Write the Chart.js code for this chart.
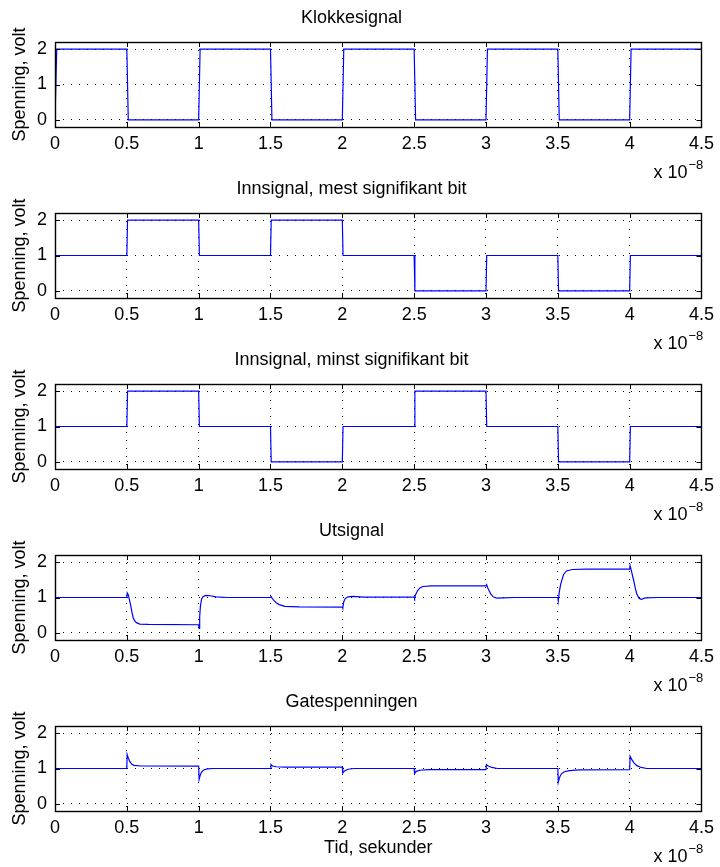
<!DOCTYPE html>
<html>
<head>
<meta charset="utf-8">
<script src="https://cdn.jsdelivr.net/npm/chart.js@4/dist/chart.umd.min.js"></script>
<style>
  html, body { margin: 0; padding: 0; background: #fff; }
  #wrap { position: relative; width: 720px; height: 867px; overflow: hidden; }
  .panel { position: absolute; left: 0; width: 720px; height: 183px; }
</style>
</head>
<body>
<div id="wrap"></div>
<script>
// tid i enheter av 1e-8 s
const xTicks = [0, 0.5, 1, 1.5, 2, 2.5, 3, 3.5, 4, 4.5];
const yTicks = [0, 1, 2];
const titles = ['Klokkesignal', 'Innsignal, mest signifikant bit', 'Innsignal, minst signifikant bit', 'Utsignal', 'Gatespenningen'];

const klokkeTid  = [0, 0.012, 0.5, 0.51, 1.0, 1.01, 1.5, 1.51, 2.0, 2.01, 2.5, 2.51, 3.0, 3.01, 3.5, 3.51, 4.0, 4.01, 4.5];
const klokkeVolt = [0, 2, 2, 0, 0, 2, 2, 0, 0, 2, 2, 0, 0, 2, 2, 0, 0, 2, 2];

const msbTid  = [0, 0.5, 0.505, 1.0, 1.005, 1.5, 1.505, 2.0, 2.005, 2.5, 2.505, 3.0, 3.005, 3.5, 3.505, 4.0, 4.005, 4.5];
const msbVolt = [1, 1, 2, 2, 1, 1, 2, 2, 1, 1, 0, 0, 1, 1, 0, 0, 1, 1];

const lsbTid  = [0, 0.5, 0.505, 1.0, 1.005, 1.5, 1.505, 2.0, 2.005, 2.5, 2.505, 3.0, 3.005, 3.5, 3.505, 4.0, 4.005, 4.5];
const lsbVolt = [1, 1, 2, 2, 1, 1, 0, 0, 1, 1, 2, 2, 1, 1, 0, 0, 1, 1];

const utTid = [0, 0.5, 0.503, 0.51, 0.525, 0.535, 0.544, 0.555, 0.567, 0.59, 0.65, 1.0,
  1.003, 1.007, 1.012, 1.02, 1.03, 1.05, 1.08, 1.12, 1.2, 1.5,
  1.503, 1.52, 1.54, 1.56, 1.6, 1.7, 2.0,
  2.003, 2.01, 2.02, 2.04, 2.07, 2.15, 2.5,
  2.503, 2.51, 2.523, 2.54, 2.56, 2.62, 3.0,
  3.004, 3.015, 3.033, 3.05, 3.075, 3.12, 3.2, 3.5,
  3.503, 3.51, 3.52, 3.54, 3.56, 3.6, 3.7, 4.0,
  4.003, 4.015, 4.028, 4.04, 4.05, 4.065, 4.08, 4.11, 4.2, 4.5];
const utVolt = [1.0, 1.0, 1.13, 1.08, 0.81, 0.6, 0.43, 0.34, 0.29, 0.25, 0.24, 0.23,
  0.13, 0.45, 0.75, 0.95, 1.02, 1.06, 1.05, 1.02, 1.0, 1.0,
  1.03, 0.93, 0.85, 0.8, 0.75, 0.735, 0.73,
  0.7, 0.88, 0.97, 1.02, 1.03, 1.01, 1.01,
  0.98, 1.08, 1.19, 1.27, 1.31, 1.33, 1.33,
  1.36, 1.25, 1.1, 1.02, 0.98, 0.99, 1.0, 1.0,
  0.9, 1.15, 1.38, 1.65, 1.75, 1.79, 1.8, 1.8,
  1.9, 1.7, 1.48, 1.25, 1.1, 0.98, 0.95, 0.99, 1.0, 1.0];

const gateTid = [0, 0.5, 0.502, 0.51, 0.52, 0.535, 0.55, 0.6, 1.0,
  1.003, 1.01, 1.02, 1.035, 1.06, 1.1, 1.5,
  1.503, 1.515, 1.54, 1.6, 2.0,
  2.003, 2.015, 2.04, 2.08, 2.5,
  2.503, 2.515, 2.54, 2.6, 3.0,
  3.003, 3.015, 3.04, 3.08, 3.5,
  3.503, 3.512, 3.525, 3.545, 3.58, 3.65, 4.0,
  4.003, 4.015, 4.03, 4.05, 4.08, 4.12, 4.5];
const gateVolt = [1.0, 1.0, 1.4, 1.3, 1.2, 1.12, 1.09, 1.07, 1.065,
  0.69, 0.8, 0.9, 0.96, 0.99, 1.0, 1.0,
  1.11, 1.07, 1.05, 1.04, 1.04,
  0.87, 0.93, 0.98, 1.0, 1.0,
  0.86, 0.92, 0.95, 0.97, 0.97,
  1.11, 1.07, 1.03, 1.0, 1.0,
  0.61, 0.75, 0.85, 0.91, 0.94, 0.96, 0.97,
  1.35, 1.25, 1.16, 1.08, 1.03, 1.0, 1.0];

const series = [
  [klokkeTid, klokkeVolt],
  [msbTid, msbVolt],
  [lsbTid, lsbVolt],
  [utTid, utVolt],
  [gateTid, gateVolt]
];

const FONT = 'Liberation Sans, Arial, Helvetica, sans-serif';

// boks, innovervendte tick-merker og "x 10^-8"
const matlabAxes = {
  id: 'matlabAxes',
  afterDraw(chart) {
    const ctx = chart.ctx;
    const a = chart.chartArea;
    const xs = chart.scales.x, ys = chart.scales.y;
    ctx.save();
    ctx.strokeStyle = '#000';
    ctx.lineWidth = 1;
    ctx.beginPath();
    xTicks.forEach(v => {
      const px = Math.round(xs.getPixelForValue(v)) + 0.5;
      ctx.moveTo(px, a.bottom); ctx.lineTo(px, a.bottom - 5);
      ctx.moveTo(px, a.top); ctx.lineTo(px, a.top + 5);
    });
    yTicks.forEach(v => {
      const py = Math.round(ys.getPixelForValue(v)) + 0.5;
      ctx.moveTo(a.left, py); ctx.lineTo(a.left + 5, py);
      ctx.moveTo(a.right, py); ctx.lineTo(a.right - 5, py);
    });
    ctx.stroke();
    ctx.lineWidth = 1.4;
    ctx.strokeRect(Math.round(a.left) + 0.5, Math.round(a.top) + 0.5,
      Math.round(a.right - a.left), Math.round(a.bottom - a.top));

    ctx.fillStyle = '#000';
    ctx.textBaseline = 'middle';
    ctx.textAlign = 'left';
    const lx = a.right - 48, ly = a.bottom + 46;
    ctx.font = '18px ' + FONT;
    ctx.fillText('x 10', lx, ly);
    const w = ctx.measureText('x 10').width;
    ctx.font = '13px ' + FONT;
    ctx.fillText('\u22128', lx + w + 1, ly - 8);
    ctx.restore();
  }
};

const wrap = document.getElementById('wrap');
series.forEach(([tid, volt], i) => {
  const div = document.createElement('div');
  div.className = 'panel';
  div.style.top = (171 * i) + 'px';
  const canvas = document.createElement('canvas');
  div.appendChild(canvas);
  wrap.appendChild(div);
  const last = i === series.length - 1;

  new Chart(canvas.getContext('2d'), {
    type: 'line',
    data: {
      datasets: [{
        data: tid.map((t, k) => ({ x: t, y: volt[k] })),
        borderColor: '#0000ff',
        borderWidth: 1.2,
        pointRadius: 0,
        tension: 0,
        fill: false
      }]
    },
    options: {
      responsive: true,
      maintainAspectRatio: false,
      animation: false,
      layout: { padding: { left: 0, right: 17, top: 0, bottom: 0 } },
      plugins: {
        legend: { display: false },
        tooltip: { enabled: false },
        title: {
          display: true,
          text: titles[i],
          color: '#000',
          font: { family: FONT, size: 18, weight: 'normal' },
          padding: { top: 7, bottom: 13.4 }
        }
      },
      scales: {
        x: {
          type: 'linear',
          min: 0,
          max: 4.5,
          afterBuildTicks: s => { s.ticks = xTicks.map(v => ({ value: v })); },
          afterFit: s => { s.height = 56; },
          ticks: {
            color: '#000',
            font: { family: FONT, size: 18 },
            padding: 6,
            maxRotation: 0,
            autoSkip: false,
            callback: v => String(v)
          },
          grid: { color: '#000', lineWidth: 1, drawTicks: false },
          border: { display: false, dash: [1, 7] },
          title: {
            display: last,
            text: 'Tid, sekunder',
            color: '#000',
            font: { family: FONT, size: 18 },
            padding: { top: 0, bottom: 8.2 }
          }
        },
        y: {
          min: -0.2,
          max: 2.2,
          afterBuildTicks: s => { s.ticks = yTicks.map(v => ({ value: v })); },
          afterFit: s => { s.width = 55; },
          ticks: {
            color: '#000',
            font: { family: FONT, size: 18 },
            padding: 8,
            callback: v => String(v)
          },
          grid: { color: '#000', lineWidth: 1, drawTicks: false },
          border: { display: false, dash: [1, 7] },
          title: {
            display: true,
            text: 'Spenning, volt',
            color: '#000',
            font: { family: FONT, size: 18 },
            padding: { top: 9.2, bottom: 0 }
          }
        }
      }
    },
    plugins: [matlabAxes]
  });
});
</script>
</body>
</html>
